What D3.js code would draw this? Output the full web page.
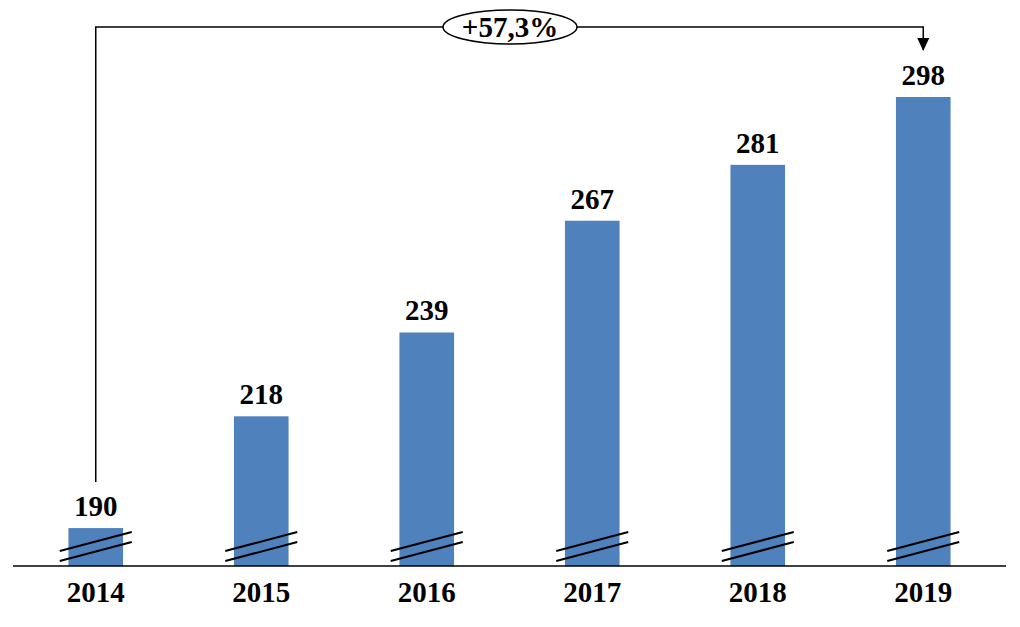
<!DOCTYPE html>
<html lang="fr">
<head>
<meta charset="UTF-8">
<title>Évolution 2014-2019</title>
<script src="https://d3js.org/d3.v7.min.js"></script>
<style>
  body { margin: 0; background: #fff; }
  text { font-family: "Liberation Serif", "DejaVu Serif", serif; font-weight: bold; fill: #000; }
</style>
</head>
<body>
<div id="chart"></div>
<script>
// Données
const years = ["2014", "2015", "2016", "2017", "2018", "2019"];
const values = [190, 218, 239, 267, 281, 298];
const growthLabel = "+57,3%";

const width = 1020, height = 627;
const baseY = 566;

const svg = d3.select("#chart").append("svg")
    .attr("width", width)
    .attr("height", height);

const x = d3.scaleBand()
    .domain(years)
    .range([13, 1006])
    .paddingInner(0.67)
    .paddingOuter(0.335);

// axe coupé : l'origine n'est pas zéro
const y = d3.scaleLinear()
    .domain([180.5, 298])
    .range([baseY, 97]);

// Barres
svg.selectAll("rect.bar")
    .data(values)
    .join("rect")
    .attr("class", "bar")
    .attr("x", (d, i) => x(years[i]))
    .attr("y", d => y(d))
    .attr("width", x.bandwidth())
    .attr("height", d => baseY - y(d))
    .attr("fill", "#4F81BD");

// Marques de coupure
years.forEach(yr => {
    const cx = x(yr) + x.bandwidth() / 2;
    [0, 10].forEach(off => {
        svg.append("line")
            .attr("x1", cx - 36).attr("y1", 551 + off)
            .attr("x2", cx + 36).attr("y2", 532 + off)
            .attr("stroke", "#000")
            .attr("stroke-width", 2);
    });
});

// Axe horizontal
svg.append("line")
    .attr("x1", 13).attr("x2", 1006)
    .attr("y1", baseY).attr("y2", baseY)
    .attr("stroke", "#000")
    .attr("stroke-width", 1.5);

// Étiquettes des années
svg.selectAll("text.year")
    .data(years)
    .join("text")
    .attr("class", "year")
    .attr("x", d => x(d) + x.bandwidth() / 2)
    .attr("y", 602)
    .attr("text-anchor", "middle")
    .attr("font-size", 29)
    .text(d => d);

// Valeurs
svg.selectAll("text.val")
    .data(values)
    .join("text")
    .attr("class", "val")
    .attr("x", (d, i) => x(years[i]) + x.bandwidth() / 2)
    .attr("y", d => y(d) - 12)
    .attr("text-anchor", "middle")
    .attr("font-size", 29)
    .text(d => d);

// Flèche de croissance
const x0 = x(years[0]) + x.bandwidth() / 2;
const x1 = x(years[years.length - 1]) + x.bandwidth() / 2;
const topY = 27;

svg.append("path")
    .attr("d", `M${x0},${y(values[0]) - 46} V${topY} H${x1} V${y(values[values.length - 1]) - 47}`)
    .attr("fill", "none")
    .attr("stroke", "#000")
    .attr("stroke-width", 1.5);

// pointe de flèche
svg.append("path")
    .attr("d", `M${x1 - 6},${38} L${x1 + 6},${38} L${x1},${51} Z`)
    .attr("fill", "#000");

const ex = 510;
svg.append("ellipse")
    .attr("cx", ex).attr("cy", topY)
    .attr("rx", 67).attr("ry", 17)
    .attr("fill", "#fff")
    .attr("stroke", "#000")
    .attr("stroke-width", 1.5);

svg.append("text")
    .attr("x", ex)
    .attr("y", topY + 10)
    .attr("text-anchor", "middle")
    .attr("font-size", 29)
    .text(growthLabel);
</script>
</body>
</html>
